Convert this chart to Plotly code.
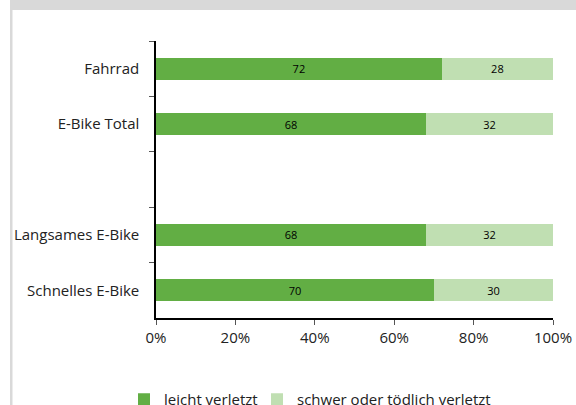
import plotly.graph_objects as go

categories = ["Fahrrad", "E-Bike Total", " ", "Langsames E-Bike", "Schnelles E-Bike"]
leicht = [72, 68, None, 68, 70]
schwer = [28, 32, None, 32, 30]
series_names = ["leicht verletzt", "schwer oder tödlich verletzt"]
tick_vals = [0, 20, 40, 60, 80, 100]
tick_text = ["0%", "20%", "40%", "60%", "80%", "100%"]

dark = "rgb(98,174,68)"
light = "rgb(192,223,178)"
font = "Open Sans"

fig = go.Figure()
for vals, name, col, lg in [(leicht, series_names[0], dark, "legend"),
                            (schwer, series_names[1], light, "legend2")]:
    fig.add_trace(go.Bar(
        y=categories, x=vals, orientation="h", name=name, legend=lg,
        marker=dict(color=col, line=dict(width=0)), width=0.4,
        text=[str(v) if v is not None else "" for v in vals],
        textposition="inside", insidetextanchor="middle", textangle=0,
        textfont=dict(size=11, color="black", family=font),
        hoverinfo="skip",
    ))

W, H = 576, 405
L, R, T, B = 156, 23, 41, 87
pw, ph = W - L - R, H - T - B

def px_to_paper_x(px):
    return (px - L) / pw

def px_to_paper_y(py):
    return (H - B - py) / ph

legend_common = dict(
    orientation="h", xanchor="left", yanchor="top", y=px_to_paper_y(383),
    font=dict(size=15, family=font, color="#222"), bgcolor="rgba(0,0,0,0)",
)

fig.update_layout(
    barmode="stack",
    width=W, height=H,
    margin=dict(l=L, r=R, t=T, b=B, pad=0, autoexpand=False),
    paper_bgcolor="white", plot_bgcolor="white",
    font=dict(family=font, size=14, color="#222"),
    uniformtext=dict(mode="show", minsize=8),
    xaxis=dict(
        range=[0, 100], tickvals=tick_vals, ticktext=tick_text,
        showgrid=False, zeroline=False, showline=True, linecolor="black", linewidth=1.5,
        ticks="outside", ticklen=5, tickcolor="#555", tickfont=dict(size=15, family=font, color="#222"),
        fixedrange=True, automargin=False,
    ),
    yaxis=dict(
        type="category", categoryorder="array", categoryarray=categories,
        autorange="reversed", tickson="boundaries",
        showgrid=False, showline=True, linecolor="black", linewidth=1.5,
        ticks="outside", ticklen=5, tickcolor="#555", tickfont=dict(size=15, family=font, color="#222"),
        ticklabelstandoff=12, automargin=False, fixedrange=True,
    ),
    legend=dict(x=px_to_paper_x(124), **legend_common),
    legend2=dict(x=px_to_paper_x(257), **legend_common),
    showlegend=True,
    shapes=[
        dict(type="rect", xref="paper", yref="paper", layer="below",
             x0=px_to_paper_x(10), x1=px_to_paper_x(577), y0=px_to_paper_y(10), y1=px_to_paper_y(-1),
             fillcolor="rgb(217,217,217)", line=dict(width=0)),
        dict(type="rect", xref="paper", yref="paper", layer="below",
             x0=px_to_paper_x(10), x1=px_to_paper_x(12.5), y0=px_to_paper_y(406), y1=px_to_paper_y(0),
             fillcolor="rgb(217,217,217)", line=dict(width=0)),
    ],
)

fig.write_html("out.html", config={"displayModeBar": False},
               post_script="document.body.style.margin='0';")
